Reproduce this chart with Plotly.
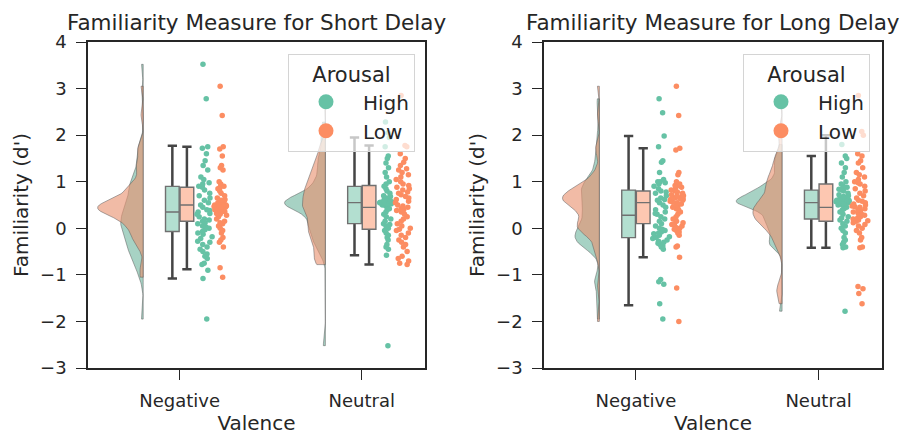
import numpy as np
import plotly.graph_objects as go

# ---------------------------------------------------------------- data
valence = ["Negative", "Neutral"]
arousal = ["High", "Low"]

# Familiarity (d') per participant, short delay
short_neg_high = [3.52, 2.78, 1.75, 1.72, 1.6, 1.45, 1.35, 1.25, 1.1, 1.05, 0.98, 0.95, 0.9, 0.88,
                  0.82, 0.75, 0.7, 0.65, 0.6, 0.55, 0.5, 0.45, 0.4, 0.38, 0.35, 0.32, 0.3, 0.25,
                  0.2, 0.18, 0.15, 0.12, 0.1, 0.05, 0.02, 0.0, -0.03, -0.07, -0.1, -0.13, -0.18, -0.22,
                  -0.28, -0.3, -0.35, -0.4, -0.45, -0.5, -0.55, -0.6, -0.65, -0.75, -0.78, -0.9, -1.08, -1.95]
short_neg_low = [3.05, 2.42, 1.75, 1.7, 1.55, 1.35, 1.3, 1.25, 1.0, 0.95, 0.9, 0.88, 0.85, 0.8,
                 0.75, 0.7, 0.65, 0.62, 0.6, 0.58, 0.55, 0.55, 0.52, 0.5, 0.5, 0.48, 0.47, 0.46,
                 0.45, 0.45, 0.44, 0.42, 0.4, 0.4, 0.38, 0.36, 0.35, 0.33, 0.32, 0.3, 0.28, 0.25,
                 0.2, 0.15, 0.12, 0.1, 0.05, 0.0, -0.05, -0.1, -0.2, -0.25, -0.3, -0.4, -0.85, -1.05]
short_neu_high = [2.28, 2.05, 1.95, 1.75, 1.55, 1.5, 1.4, 1.3, 1.2, 1.1, 1.0, 0.95, 0.9, 0.85,
                  0.8, 0.75, 0.7, 0.68, 0.65, 0.62, 0.6, 0.6, 0.58, 0.57, 0.56, 0.55, 0.55, 0.54,
                  0.53, 0.52, 0.52, 0.5, 0.5, 0.48, 0.45, 0.42, 0.4, 0.35, 0.3, 0.25, 0.2, 0.15,
                  0.1, 0.08, 0.05, 0.0, -0.05, -0.1, -0.15, -0.2, -0.25, -0.35, -0.4, -0.45, -0.58, -2.52]
short_neu_low = [2.85, 1.78, 1.75, 1.6, 1.5, 1.42, 1.35, 1.28, 1.25, 1.2, 1.15, 1.1, 1.05, 1.0,
                 0.95, 0.92, 0.88, 0.85, 0.82, 0.78, 0.75, 0.72, 0.68, 0.65, 0.62, 0.58, 0.55, 0.5,
                 0.48, 0.45, 0.42, 0.4, 0.38, 0.35, 0.3, 0.25, 0.2, 0.15, 0.1, 0.05, 0.0, -0.02,
                 -0.05, -0.1, -0.15, -0.2, -0.25, -0.3, -0.35, -0.4, -0.5, -0.6, -0.65, -0.7, -0.75, -0.78]

# Familiarity (d') per participant, long delay
long_neg_high = [2.78, 2.48, 1.98, 1.75, 1.45, 1.42, 1.2, 1.05, 1.0, 1.0, 0.98, 0.95, 0.9, 0.85,
                 0.8, 0.78, 0.75, 0.7, 0.65, 0.62, 0.6, 0.55, 0.5, 0.45, 0.4, 0.35, 0.32, 0.3,
                 0.25, 0.2, 0.15, 0.1, 0.05, 0.0, -0.02, -0.05, -0.08, -0.1, -0.12, -0.15, -0.18, -0.2,
                 -0.22, -0.25, -0.28, -0.3, -0.32, -0.35, -0.38, -0.4, -0.45, -1.1, -1.15, -1.2, -1.62, -1.95]
long_neg_low = [3.05, 2.42, 1.72, 1.68, 1.2, 1.15, 1.0, 0.95, 0.92, 0.9, 0.88, 0.85, 0.82, 0.8,
                0.78, 0.75, 0.72, 0.7, 0.7, 0.68, 0.66, 0.65, 0.64, 0.63, 0.62, 0.6, 0.58, 0.56,
                0.55, 0.52, 0.5, 0.48, 0.45, 0.42, 0.4, 0.35, 0.3, 0.25, 0.2, 0.15, 0.12, 0.1,
                0.08, 0.05, 0.02, 0.0, -0.02, -0.05, -0.08, -0.1, -0.15, -0.38, -0.4, -0.62, -1.28, -2.0]
long_neu_high = [1.8, 1.55, 1.5, 1.4, 1.3, 1.2, 1.1, 1.0, 0.95, 0.9, 0.88, 0.85, 0.84, 0.82,
                 0.8, 0.75, 0.72, 0.7, 0.68, 0.66, 0.65, 0.63, 0.62, 0.6, 0.6, 0.58, 0.57, 0.56,
                 0.55, 0.55, 0.54, 0.52, 0.5, 0.5, 0.48, 0.45, 0.42, 0.4, 0.35, 0.3, 0.25, 0.22,
                 0.18, 0.15, 0.1, 0.05, 0.0, -0.05, -0.1, -0.2, -0.25, -0.3, -0.35, -0.4, -0.42, -1.78]
long_neu_low = [2.85, 2.08, 2.0, 1.6, 1.55, 1.45, 1.4, 1.3, 1.2, 1.15, 1.1, 1.05, 1.0, 0.98,
                0.95, 0.9, 0.85, 0.8, 0.75, 0.7, 0.65, 0.6, 0.58, 0.55, 0.52, 0.5, 0.48, 0.46,
                0.45, 0.42, 0.4, 0.38, 0.35, 0.32, 0.3, 0.28, 0.25, 0.22, 0.2, 0.18, 0.16, 0.15,
                0.12, 0.08, 0.05, 0.0, -0.05, -0.1, -0.2, -0.25, -0.4, -0.42, -1.25, -1.3, -1.4, -1.62]

# box-plot summaries per valence (Negative, Neutral): Q1, median, Q3, whisker ends
short_high_q1, short_high_med, short_high_q3 = [-0.07, 0.10], [0.35, 0.55], [0.90, 0.90]
short_high_lo, short_high_hi = [-1.08, -0.58], [1.77, 1.95]
short_low_q1, short_low_med, short_low_q3 = [0.15, -0.02], [0.50, 0.45], [0.88, 0.92]
short_low_lo, short_low_hi = [-0.88, -0.78], [1.75, 1.78]
long_high_q1, long_high_med, long_high_q3 = [-0.20, 0.20], [0.28, 0.55], [0.82, 0.82]
long_high_lo, long_high_hi = [-1.65, -0.42], [1.98, 1.55]
long_low_q1, long_low_med, long_low_q3 = [0.10, 0.15], [0.55, 0.45], [0.80, 0.95]
long_low_lo, long_low_hi = [-0.62, -0.42], [1.72, 2.00]

y_ticks = [-3, -2, -1, 0, 1, 2, 3, 4]

# ---------------------------------------------------------------- style
FONT = "DejaVu Sans"
INK = "#262626"
DOT = {"High": "#66c2a5", "Low": "#fc8d62"}
CLOUD = {"High": "rgba(113,183,160,0.62)", "Low": "rgba(233,146,112,0.62)"}
BOXFILL = {"High": "#b3dfd0", "Low": "#fdc7b1"}
CLOUD_EDGE = -0.2                      # flat side of the half violins
CLOUD_W = 0.25                         # width of the widest cloud in a panel
BOX_OFF = {"High": -0.04, "Low": 0.04}
DOT_OFF = {"High": 0.14, "Low": 0.23}
BOX_W = 0.075


def kde(vals, factor=0.2, n=120):
    """Gaussian KDE cut at the data range (bandwidth = factor * sd)."""
    v = np.asarray(vals, float)
    bw = factor * v.std(ddof=1)
    grid = np.linspace(v.min(), v.max(), n)
    z = (grid[:, None] - v[None, :]) / bw
    dens = np.exp(-0.5 * z ** 2).sum(axis=1) / (len(v) * bw * np.sqrt(2 * np.pi))
    return grid, dens


panels = [
    dict(title="Familiarity Measure for Short Delay", xa="x", ya="y", legend="legend",
         values={"High": [short_neg_high, short_neu_high], "Low": [short_neg_low, short_neu_low]},
         stats={"High": (short_high_q1, short_high_med, short_high_q3, short_high_lo, short_high_hi),
                "Low": (short_low_q1, short_low_med, short_low_q3, short_low_lo, short_low_hi)}),
    dict(title="Familiarity Measure for Long Delay", xa="x2", ya="y2", legend="legend2",
         values={"High": [long_neg_high, long_neu_high], "Low": [long_neg_low, long_neu_low]},
         stats={"High": (long_high_q1, long_high_med, long_high_q3, long_high_lo, long_high_hi),
                "Low": (long_low_q1, long_low_med, long_low_q3, long_low_lo, long_low_hi)}),
]

fig = go.Figure()

for p in panels:
    # clouds: half violins left of each category, equal-area scaling within the panel
    dens = {a: [kde(v) for v in p["values"][a]] for a in arousal}
    top = max(d.max() for a in arousal for _, d in dens[a])
    for a in arousal:
        for i, (grid, d) in enumerate(dens[a]):
            edge = i + CLOUD_EDGE
            xs = np.concatenate([[edge], edge - d / top * CLOUD_W, [edge, edge]])
            ys = np.concatenate([[grid[0]], grid, [grid[-1], grid[0]]])
            fig.add_trace(go.Scatter(
                x=xs, y=ys, mode="lines", fill="toself", fillcolor=CLOUD[a],
                line=dict(color="rgba(90,90,90,0.5)", width=1),
                xaxis=p["xa"], yaxis=p["ya"], showlegend=False, hoverinfo="skip"))
    # boxes: thick whiskers underneath, then the filled box on top
    for a in arousal:
        q1, med, q3, lo, hi = p["stats"][a]
        xs = [i + BOX_OFF[a] for i in range(len(valence))]
        fig.add_trace(go.Box(
            x=xs, q1=med, median=med, q3=med, lowerfence=lo, upperfence=hi,
            width=0.06, whiskerwidth=0.85, boxpoints=False,
            line=dict(color="#454545", width=2.5), fillcolor="rgba(0,0,0,0)",
            xaxis=p["xa"], yaxis=p["ya"], showlegend=False, hoverinfo="skip"))
        fig.add_trace(go.Box(
            x=xs, q1=q1, median=med, q3=q3, lowerfence=q1, upperfence=q3,
            width=BOX_W, whiskerwidth=0, boxpoints=False,
            line=dict(color="#707070", width=1.4), fillcolor=BOXFILL[a],
            xaxis=p["xa"], yaxis=p["ya"], showlegend=False, hoverinfo="skip"))
    # rain: jittered points right of each category
    for a in arousal:
        for i, vals in enumerate(p["values"][a]):
            fig.add_trace(go.Box(
                y=vals, x0=i + DOT_OFF[a], width=0.1, boxpoints="all", jitter=1, pointpos=0,
                fillcolor="rgba(0,0,0,0)", line=dict(width=0, color="rgba(0,0,0,0)"),
                marker=dict(color=DOT[a], size=5.5, line=dict(width=0)),
                xaxis=p["xa"], yaxis=p["ya"], showlegend=False, hoverinfo="skip"))
    # legend entries
    for a in arousal:
        fig.add_trace(go.Scatter(
            x=[None], y=[None], mode="markers", name=a,
            marker=dict(color=DOT[a], size=15), legend=p["legend"],
            xaxis=p["xa"], yaxis=p["ya"]))

W, H = 900, 435
x_domains = [(88 / W, 425 / W), (544 / W, 882 / W)]
y_domain = (1 - 368 / H, 1 - 42 / H)

axis_common = dict(showline=True, mirror=True, linecolor=INK, linewidth=1.5,
                   ticks="outside", ticklen=10, tickwidth=1.3, tickcolor=INK,
                   showgrid=False, zeroline=False, automargin=False,
                   tickfont=dict(size=18, color=INK, family=FONT))

layout = dict(
    width=W, height=H, autosize=False,
    margin=dict(l=0, r=0, t=0, b=0, pad=0, autoexpand=False),
    paper_bgcolor="white", plot_bgcolor="white",
    font=dict(family=FONT, color=INK),
    boxmode="overlay",
    annotations=[],
)

for k, (p, dom) in enumerate(zip(panels, x_domains)):
    sx = "" if k == 0 else str(k + 1)
    layout["xaxis" + sx] = dict(axis_common, domain=list(dom), anchor="y" + sx,
                                range=[-0.503, 1.347], tickmode="array",
                                tickvals=list(range(len(valence))), ticktext=valence,
                                ticklabelstandoff=6,
                                title=dict(text="Valence", font=dict(size=20, color=INK),
                                           standoff=12))
    layout["yaxis" + sx] = dict(axis_common, domain=list(y_domain), anchor="x" + sx,
                                range=[-3, 4], tickmode="array", tickvals=y_ticks,
                                ticklabelstandoff=6,
                                title=dict(text="Familiarity (d')", font=dict(size=20, color=INK),
                                           standoff=6))
    layout["annotations"].append(dict(
        text=p["title"], xref="paper", yref="paper",
        x=(dom[0] + dom[1]) / 2, y=1 - 22 / H, xanchor="center", yanchor="middle",
        showarrow=False, font=dict(size=21.5, color=INK, family=FONT)))
    layout[p["legend"]] = dict(
        x=(288 if k == 0 else 743) / W, y=1 - 54 / H, xanchor="left", yanchor="top",
        bgcolor="rgba(255,255,255,0.7)", bordercolor="#d4d4d4", borderwidth=1,
        font=dict(size=20, color=INK, family=FONT), itemwidth=64,
        title=dict(text="Arousal", side="top center", font=dict(size=21, color=INK)))

fig.update_layout(**layout)
fig.write_html("out.html")
